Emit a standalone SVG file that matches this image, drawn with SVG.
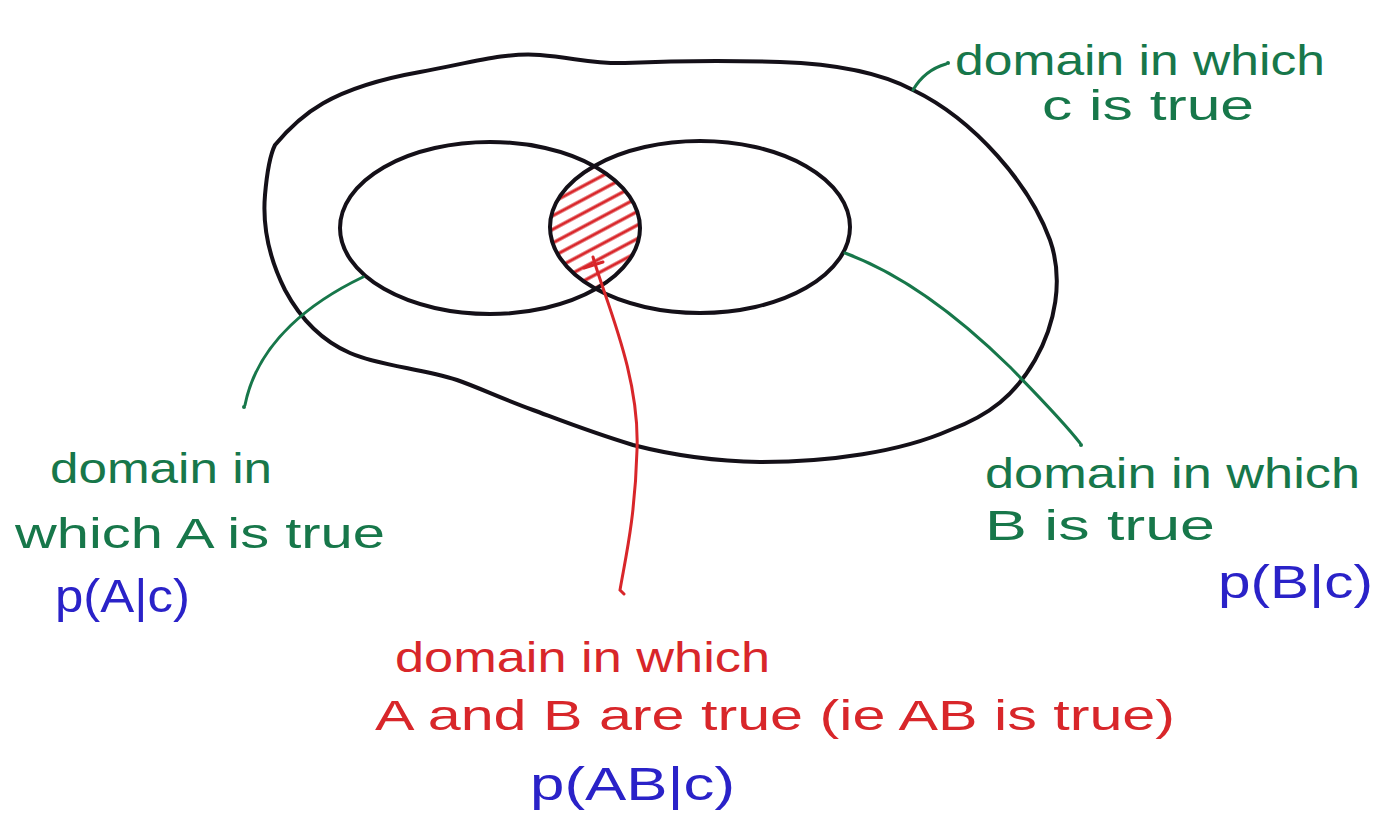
<svg xmlns="http://www.w3.org/2000/svg" width="1380" height="826" viewBox="0 0 1380 826">
<style>
.bk{fill:none;stroke:#141018;stroke-width:4;stroke-linecap:round;stroke-linejoin:round}
.gr{fill:none;stroke:#17774a;stroke-width:3;stroke-linecap:round}
.rd{fill:none;stroke:#d8262a;stroke-width:3;stroke-linecap:round}
.tg{fill:#17774a;font-family:"Liberation Sans",Arial,sans-serif;font-size:42px}
.tr{fill:#d8262a;font-family:"Liberation Sans",Arial,sans-serif;font-size:42px}
.tb{fill:#2a22c8;font-family:"Liberation Sans",Arial,sans-serif;font-size:46px}
</style>
<defs>
<pattern id="hatch" patternUnits="userSpaceOnUse" width="12" height="12" patternTransform="rotate(-28)">
<line x1="0" y1="6" x2="12" y2="6" stroke="#d8262a" stroke-width="3.2"/>
</pattern>
<clipPath id="lensClip">
<ellipse cx="490" cy="228" rx="150" ry="86"/>
</clipPath>
</defs>
<rect width="1380" height="826" fill="#ffffff"/>

<g id="lens">
<ellipse cx="700" cy="227" rx="150" ry="86" fill="url(#hatch)" clip-path="url(#lensClip)"/>
</g>

<g id="domainC">
<path class="bk" d="M275,145 C300,115 330,88 420,72 C470,63 505,52 540,55 C575,58 595,64 625,63 C670,61 720,60 780,62 C840,64 885,75 913,90 C975,120 1030,185 1050,240 C1064,280 1055,325 1035,360 C1015,395 990,415 950,430 C900,452 830,462 760,462 C700,461 660,452 633,445 C590,432 560,420 533,410 C500,398 480,388 457,380 C420,368 380,366 350,353 C320,340 300,318 285,290 C270,260 262,230 265,195 C267,172 270,155 275,145 Z"/>
</g>

<g id="domainA">
<ellipse class="bk" cx="490" cy="228" rx="150" ry="86"/>
</g>

<g id="domainB">
<ellipse class="bk" cx="700" cy="227" rx="150" ry="86"/>
</g>

<g id="connectors">
<path class="gr" d="M913,90 C920,78 932,68 946,64"/>
<circle cx="948" cy="63" r="2" fill="#17774a"/>
<path class="gr" d="M363,277 C315,300 258,340 245,405"/>
<circle cx="244" cy="407" r="2" fill="#17774a"/>
<path class="gr" d="M845,253 C905,275 960,318 1010,367 C1040,398 1062,420 1080,443"/>
<circle cx="1081" cy="445" r="2" fill="#17774a"/>
<path class="rd" d="M593,257 C605,300 640,375 637,450 C635,520 625,560 620,590 L624,594"/>
<path class="rd" d="M584,268 L603,262"/>
</g>

<g id="labelC">
<text class="tg" x="955" y="75" textLength="370" lengthAdjust="spacingAndGlyphs">domain in which</text>
<text class="tg" x="1042" y="120" textLength="212" lengthAdjust="spacingAndGlyphs">c is true</text>
</g>

<g id="labelA">
<text class="tg" x="50" y="483" textLength="222" lengthAdjust="spacingAndGlyphs">domain in</text>
<text class="tg" x="15" y="548" textLength="370" lengthAdjust="spacingAndGlyphs">which A is true</text>
<text class="tb" x="55" y="612" textLength="135" lengthAdjust="spacingAndGlyphs">p(A|c)</text>
</g>

<g id="labelB">
<text class="tg" x="985" y="488" textLength="375" lengthAdjust="spacingAndGlyphs">domain in which</text>
<text class="tg" x="985" y="540" textLength="230" lengthAdjust="spacingAndGlyphs">B is true</text>
<text class="tb" x="1218" y="598" textLength="155" lengthAdjust="spacingAndGlyphs">p(B|c)</text>
</g>

<g id="labelAB">
<text class="tr" x="395" y="672" textLength="375" lengthAdjust="spacingAndGlyphs">domain in which</text>
<text class="tr" x="375" y="730" textLength="800" lengthAdjust="spacingAndGlyphs">A and B are true (ie AB is true)</text>
<text class="tb" x="530" y="800" textLength="205" lengthAdjust="spacingAndGlyphs">p(AB|c)</text>
</g>
</svg>
